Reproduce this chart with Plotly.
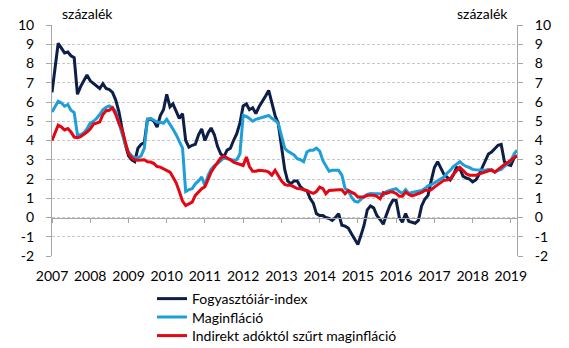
import plotly.graph_objects as go
import pandas as pd

months = pd.date_range("2007-01-01", "2019-03-01", freq="MS")

cpi = [6.5, 8.0, 9.05, 8.8, 8.55, 8.6, 8.4, 8.3, 6.4, 6.8, 7.1, 7.4,
       7.1, 6.95, 6.8, 6.7, 6.95, 6.7, 6.65, 6.5, 6.1, 5.5, 4.6, 3.8,
       3.2, 3.0, 2.9, 3.6, 3.8, 3.9, 5.1, 5.1, 5.0, 4.7, 5.3, 5.6,
       6.4, 5.75, 5.9, 5.55, 5.15, 5.4, 4.0, 3.65, 3.75, 3.8, 4.3, 4.6,
       4.0, 4.4, 4.65, 4.3, 3.7, 3.3, 3.15, 3.5, 3.6, 4.0, 4.35, 4.9,
       5.8, 5.9, 5.6, 5.7, 5.4, 5.75, 6.0, 6.3, 6.6, 6.0, 5.3, 4.9,
       3.6, 2.5, 1.9, 1.75, 1.9, 1.9, 1.6, 1.45, 1.4, 1.0, 0.75, 0.2,
       0.1, 0.1, 0.0, -0.05, -0.15, 0.0, 0.2, -0.4, -0.45, -0.55, -0.85, -1.1,
       -1.4, -0.9, -0.4, 0.4, 0.6, 0.5, 0.1, -0.1, -0.35, 0.15, 0.6, 0.9,
       0.9, 0.0, -0.25, 0.2, -0.2, -0.25, -0.3, -0.15, 0.6, 0.95, 1.15, 1.9,
       2.6, 2.9, 2.6, 2.25, 2.1, 1.95, 2.2, 2.6, 2.55, 2.15, 2.05, 2.0,
       1.85, 1.95, 2.2, 2.6, 3.0, 3.3, 3.4, 3.55, 3.75, 3.8, 2.9, 2.75,
       2.7, 3.1, 3.2]

core = [5.48, 5.8, 6.04, 5.95, 5.78, 5.87, 5.57, 5.45, 4.3, 4.3, 4.4, 4.6,
        4.9, 5.0, 5.14, 5.35, 5.6, 5.72, 5.8, 5.7, 5.5, 4.9, 4.3, 3.8,
        3.4, 3.2, 3.1, 3.1, 3.2, 3.6, 5.1, 5.15, 5.05, 4.95, 4.95, 4.9,
        5.1, 4.85, 4.6, 4.3, 3.95, 3.6, 1.35, 1.45, 1.5, 1.75, 1.9, 2.1,
        1.65, 2.2, 2.5, 2.7, 2.8, 2.95, 3.1, 3.05, 3.0, 2.97, 3.0, 3.3,
        5.3, 5.25, 5.15, 5.0, 5.1, 5.15, 5.2, 5.25, 5.3, 5.15, 5.05, 4.9,
        4.2, 3.6, 3.45, 3.35, 3.25, 3.05, 3.0, 2.9, 3.4, 3.5, 3.5, 3.6,
        3.45, 2.95, 2.7, 2.4, 2.45, 2.45, 2.45, 2.2, 1.5, 1.4, 1.05, 0.85,
        0.8, 0.95, 1.1, 1.2, 1.25, 1.23, 1.23, 1.23, 1.15, 1.35, 1.4, 1.45,
        1.5, 1.35, 1.25, 1.45, 1.25, 1.3, 1.32, 1.35, 1.4, 1.5, 1.65, 1.7,
        1.8, 1.9, 2.0, 2.1, 2.3, 2.45, 2.65, 2.8, 2.9, 2.75, 2.65, 2.6,
        2.5, 2.48, 2.48, 2.45, 2.45, 2.5, 2.45, 2.36, 2.45, 2.5, 2.65, 2.8,
        2.95, 3.3, 3.5]

core_tax = [4.0, 4.45, 4.8, 4.7, 4.55, 4.62, 4.44, 4.18, 4.15, 4.2, 4.3, 4.44,
            4.6, 4.85, 4.9, 4.96, 5.35, 5.55, 5.57, 5.7, 5.35, 4.9, 4.55, 3.9,
            3.3, 3.1, 3.0, 2.97, 3.0, 3.0, 2.9, 2.88, 2.8, 2.65, 2.62, 2.53,
            2.45, 2.36, 2.1, 1.8, 1.35, 0.85, 0.62, 0.7, 0.8, 1.15, 1.35, 1.5,
            1.6, 2.05, 2.35, 2.62, 2.88, 3.1, 3.18, 3.1, 3.0, 2.88, 2.82, 2.8,
            2.7, 3.14, 2.65, 2.4, 2.4, 2.45, 2.45, 2.42, 2.36, 2.2, 2.45, 2.2,
            1.9, 1.72, 1.67, 1.67, 1.6, 1.5, 1.49, 1.45, 1.4, 1.32, 1.25, 1.35,
            1.58, 1.5, 1.23, 1.4, 1.42, 1.44, 1.44, 1.44, 1.23, 1.4, 1.3, 1.23,
            1.06, 1.06, 1.06, 1.15, 1.15, 1.15, 1.1, 0.97, 1.3, 1.25, 1.32, 1.32,
            1.25, 1.1, 1.1, 1.32, 1.2, 1.12, 1.18, 1.23, 1.3, 1.4, 1.42, 1.44,
            1.58, 1.7, 1.8, 1.93, 1.95, 2.0, 2.25, 2.45, 2.6, 2.45, 2.27, 2.2,
            2.19, 2.19, 2.25, 2.31, 2.36, 2.42, 2.48, 2.36, 2.5, 2.62, 2.75, 2.85,
            3.0, 3.1, 3.23]

year_ticks = [f"{y}-01-01" for y in range(2007, 2020)]
year_labels = [str(y) for y in range(2007, 2020)]
y_ticks = list(range(-2, 11))
y_labels = [str(v) for v in y_ticks]  # plain hyphen minus, as in the original

series_names = ["Fogyasztóiár-index", "Maginfláció", "Indirekt adóktól szűrt maginfláció"]
series_colors = ["#0D1F47", "#1E9FDA", "#E30613"]
legend_ids = ["legend", "legend2", "legend3"]
legend_y = [-0.117, -0.197, -0.277]

FONT = "Lato"
AXIS_GRAY = "#A6A6A6"
tf = dict(family=FONT, size=14, color="#000000")

fig = go.Figure()
for name, vals, col, lg in zip(series_names, [cpi, core, core_tax], series_colors, legend_ids):
    fig.add_trace(go.Scatter(x=months, y=vals, name=name, mode="lines", legend=lg,
                             line=dict(color=col, width=3), hoverinfo="skip"))
fig.add_trace(go.Scatter(x=[months[0]], y=[None], yaxis="y2", showlegend=False,
                         hoverinfo="skip", mode="lines"))

legends = {}
for lg, ly in zip(legend_ids, legend_y):
    legends[lg] = dict(x=0.215, y=ly, xanchor="left", yanchor="top",
                       font=tf, bgcolor="rgba(0,0,0,0)")

xr = ["2007-01-01", "2019-03-01"]
fig.update_layout(
    width=569, height=348,
    margin=dict(l=52, r=52, t=25, b=92, autoexpand=False),
    paper_bgcolor="white", plot_bgcolor="white",
    font=tf,
    showlegend=True,
    **legends,
    xaxis=dict(range=xr, tickmode="array", tickvals=year_ticks, ticktext=year_labels,
               anchor="free", position=2/12, showline=True, linecolor=AXIS_GRAY, linewidth=1,
               ticks="outside", ticklen=4, tickcolor=AXIS_GRAY, showgrid=False,
               ticklabelstandoff=42, tickfont=tf, zeroline=False, automargin=False),
    yaxis=dict(range=[-2, 10], tickmode="array", tickvals=y_ticks, ticktext=y_labels,
               showline=True, linecolor=AXIS_GRAY, linewidth=1,
               ticks="outside", ticklen=5, tickcolor=AXIS_GRAY,
               showgrid=True, gridcolor="#C8C8C8", griddash="3px,2px", gridwidth=1,
               zeroline=False, ticklabelstandoff=9, tickfont=tf, automargin=False),
    yaxis2=dict(range=[-2, 10], tickmode="array", tickvals=y_ticks, ticktext=y_labels,
                overlaying="y", side="right", showline=True, linecolor=AXIS_GRAY, linewidth=1,
                ticks="outside", ticklen=5, tickcolor=AXIS_GRAY, showgrid=False,
                zeroline=False, ticklabelstandoff=9, tickfont=tf, automargin=False),
)

fig.add_annotation(text="százalék", xref="paper", yref="paper", x=0.018, y=1.0,
                   xanchor="left", yanchor="bottom", showarrow=False, font=tf, yshift=1)
fig.add_annotation(text="százalék", xref="paper", yref="paper", x=0.985, y=1.0,
                   xanchor="right", yanchor="bottom", showarrow=False, font=tf, yshift=1)

fig.write_html("out.html")
